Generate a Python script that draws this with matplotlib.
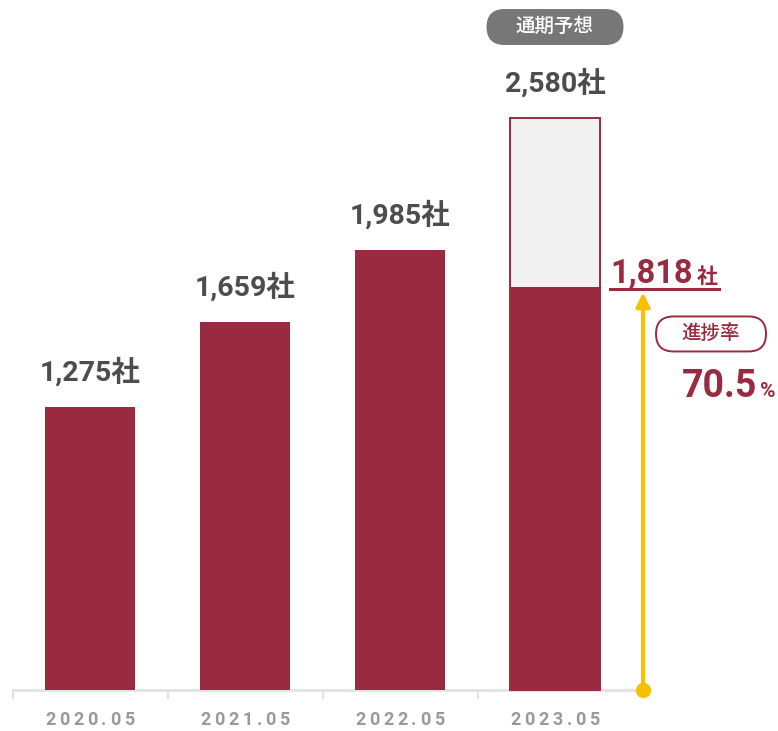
import matplotlib
matplotlib.use("Agg")
import matplotlib.pyplot as plt
from matplotlib.patches import FancyBboxPatch
from matplotlib.transforms import IdentityTransform

plt.rcParams['font.family'] = ['Roboto', 'Noto Sans CJK JP', 'DejaVu Sans']

# 会員企業数（各年5月時点）
periods = ["2020.05", "2021.05", "2022.05", "2023.05"]
companies = [1275, 1659, 1985]
forecast_2023 = 2580
actual_2023 = 1818
progress = 70.5

crimson = "#9a2a3f"
gold = "#f7c000"
grey_text = "#4d4d4d"

# 1単位あたりのピクセル数（横: カテゴリ間隔, 縦: 社数）
px_x = 155.0
px_y = 0.2217

fig = plt.figure(figsize=(7.78, 7.31), dpi=100)
ax = fig.add_axes([0, 0, 1, 1])
ax.set_xlim(-90 / px_x, (778 - 90) / px_x)
ax.set_ylim(-41 / px_y, (731 - 41) / px_y)
ax.axis("off")

bw = 90 / px_x
x = list(range(len(periods)))

ax.bar(x[:3], companies, width=bw, color=crimson, zorder=2)
ax.bar(x[3], forecast_2023, width=bw, color="#f1f1f1", edgecolor=crimson, linewidth=1.4, zorder=2)
ax.bar(x[3], actual_2023, width=bw, color=crimson, zorder=3)

# 軸線と区切り目盛
ax.plot([-0.5, 3.52], [0, 0], color="#e2e2e2", lw=2, zorder=1, solid_capstyle="butt")
for b in [-0.5, 0.5, 1.5, 2.5]:
    ax.plot([b, b], [0, -8 / px_y], color="#e2e2e2", lw=1.5, zorder=1)

# 字間を空けたラベル（1文字ずつ配置）
def spaced_label(xc, y, s, digit_w=14.0, dot_w=8.5, **kw):
    widths = [dot_w if c == "." else digit_w for c in s]
    total = sum(widths)
    pos = -total / 2
    for c, w in zip(s, widths):
        ax.annotate(c, xy=(xc, y), xytext=(pos + w / 2, 0), textcoords="offset pixels",
                    ha="center", va="center", **kw)
        pos += w

for i, p in enumerate(periods):
    spaced_label(i, -30 / px_y, p, fontsize=13, color="#999999", fontweight="bold")

# 棒の上の数値
for i, v in enumerate(companies + [forecast_2023]):
    ax.annotate(f"{v:,}社", xy=(i, v), xytext=(0, 35), textcoords="offset pixels",
                ha="center", va="center", fontsize=20.5, fontweight="bold", color=grey_text)

def pill(cx, cy, w, h, text, fc, ec, tc):
    # データ座標の中心に、ピクセル単位の角丸ラベルを置く
    px, py = ax.transData.transform((cx, cy))
    box = FancyBboxPatch((px - w / 2, py - h / 2), w, h,
                         boxstyle=f"round,pad=0,rounding_size={h / 2}",
                         transform=IdentityTransform(), fc=fc, ec=ec, lw=1.4, zorder=4)
    ax.add_patch(box)
    ax.text(px, py, text, transform=IdentityTransform(), ha="center", va="center",
            fontsize=14, color=tc, fontweight="medium", zorder=5)

pill(3, forecast_2023 + 91 / px_y, 135, 34, "通期予想", "#777777", "#777777", "white")

# 進捗の矢印
xa = (643 - 90) / px_x
ax.annotate("", xy=(xa, actual_2023), xytext=(xa, 0),
            arrowprops=dict(arrowstyle="-|>", color=gold, lw=3, mutation_scale=20,
                            shrinkA=0, shrinkB=4), zorder=4)
ax.plot([xa], [0], marker="o", ms=10, color=gold, zorder=5)

xl = (610 - 90) / px_x
ax.annotate(f"{actual_2023:,}", xy=(xl, actual_2023), xytext=(0, 4), textcoords="offset pixels",
            ha="left", va="baseline", fontsize=23.5, fontweight="bold", color=crimson)
ax.annotate("社", xy=((697 - 90) / px_x, actual_2023), xytext=(0, 4), textcoords="offset pixels",
            ha="left", va="baseline", fontsize=15, fontweight="bold", color=crimson)
ax.plot([xl, (719 - 90) / px_x], [actual_2023 - 2 / px_y] * 2, color=crimson, lw=2.2)

pill((711 - 90) / px_x, actual_2023 - 47 / px_y, 110, 35, "進捗率", "white", crimson, crimson)

ax.annotate(f"{progress}", xy=((757 - 90) / px_x, actual_2023), xytext=(0, -110), textcoords="offset pixels",
            ha="right", va="baseline", fontsize=27, fontweight="bold", color=crimson)
ax.annotate("%", xy=((760 - 90) / px_x, actual_2023), xytext=(0, -110), textcoords="offset pixels",
            ha="left", va="baseline", fontsize=15, fontweight="bold", color=crimson)

fig.savefig("out.png", dpi=100)
